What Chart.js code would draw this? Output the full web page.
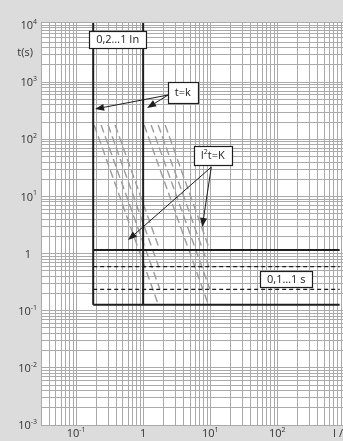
<!DOCTYPE html>
<html>
<head>
<meta charset="utf-8">
<script src="https://cdn.jsdelivr.net/npm/chart.js@4.4.1/dist/chart.umd.min.js"></script>
<style>
html, body { margin: 0; padding: 0; background: #dcdcdc; overflow: hidden; }
#wrap { width: 343px; height: 441px; overflow: hidden; }
</style>
</head>
<body>
<div id="wrap"><canvas id="chart" width="352" height="441"></canvas></div>
<script>
// axis ranges (I / In and t in seconds)
const xMin = 0.03, xMax = 1300;
const yMin = 0.001, yMax = 11300;

// tick labels
const xDecades = [0.1, 1, 10, 100];
const xDecadeExp = ['-1', '', '1', '2'];
const xAxisTitle = 'I / In';
const xAxisTitleAt = 1000;

const yDecades = [0.001, 0.01, 0.1, 1, 10, 100, 1000, 10000];
const yDecadeExp = ['-3', '-2', '-1', '', '1', '2', '3', '4'];
const yAxisTitle = 't(s)';
const yAxisTitleAt = 3240;

// long delay threshold 0,2...1 In (vertical lines)
const thresholdI = [0.18, 1];
const thresholdBottom = 0.127;

// short delay levels 0,1...1 s
const delaySolidT = [1.155, 0.127];
const delayDashedT = [0.589, 0.237];
const delayFromI = 0.18;
const delayToI = 850;

// I2t=K curves (start and end points), two groups of four
const i2tFromI = [0.186, 0.236, 0.300, 0.382, 1.035, 1.316, 1.675, 2.13];
const i2tFromT = [178, 178, 178, 178, 178, 178, 178, 178];
const i2tToI = [1.69, 1.77, 1.71, 1.77, 9.43, 9.86, 9.56, 9.86];
const i2tToT = [0.126, 0.240, 0.582, 1.155, 0.126, 0.240, 0.582, 1.155];

// annotation boxes: text, I, t
const boxText = ['0,2…1 In', 't=k', 'I²t=K', '0,1…1 s'];
const boxI = [0.417, 3.89, 10.9, 136];
const boxT = [5580, 659, 52, 0.359];
const boxH = [17, 21, 19, 16];

// arrows: from (I,t) to tip (I,t)
const arrowFromI = [2.36, 2.36, 10.38, 10.38];
const arrowFromT = [596, 596, 32.7, 32.7];
const arrowToI = [0.192, 1.147, 0.597, 7.6];
const arrowToT = [339, 353, 1.73, 2.92];

const gridColor = '#aaaaaa';
const darkColor = '#1e1e1e';
const baseFont = '11px "Open Sans"';
const supFont = '7px "Open Sans"';

const datasets = [];

thresholdI.forEach(i => {
  datasets.push({
    data: [{ x: i, y: yMax }, { x: i, y: thresholdBottom }],
    borderColor: darkColor, borderWidth: 2
  });
});

delaySolidT.forEach(t => {
  datasets.push({
    data: [{ x: delayFromI, y: t }, { x: delayToI, y: t }],
    borderColor: darkColor, borderWidth: 2
  });
});

delayDashedT.forEach(t => {
  datasets.push({
    data: [{ x: delayFromI, y: t }, { x: delayToI, y: t }],
    borderColor: darkColor, borderWidth: 1.2, borderDash: [4, 3]
  });
});

for (let k = 0; k < i2tFromI.length; k++) {
  datasets.push({
    data: [{ x: i2tFromI[k], y: i2tFromT[k] }, { x: i2tToI[k], y: i2tToT[k] }],
    borderColor: '#9c9c9c', borderWidth: 1.4, borderDash: [8, 4]
  });
}

function logGrid(scale) {
  const ticks = [];
  for (let e = -4; e <= 4; e++) {
    for (let m = 1; m <= 9; m++) {
      const v = m * Math.pow(10, e);
      if (v >= scale.min * 0.999 && v <= scale.max) ticks.push({ value: v });
    }
  }
  scale.ticks = ticks;
}

function drawParts(ctx, parts, x, y, align) {
  let w = 0;
  parts.forEach(p => {
    ctx.font = p[1] ? supFont : baseFont;
    w += ctx.measureText(p[0]).width;
  });
  let cx = align === 'right' ? x - w : align === 'center' ? x - w / 2 : x;
  parts.forEach(p => {
    ctx.font = p[1] ? supFont : baseFont;
    ctx.fillText(p[0], cx, p[1] ? y - 4 : y);
    cx += ctx.measureText(p[0]).width;
  });
  return w;
}

function powerParts(exp) {
  if (exp === '') return [['1', false]];
  return [['10', false], [exp, true]];
}

function textParts(str) {
  if (str.indexOf('²') >= 0) {
    const bits = str.split('²');
    return [[bits[0], false], ['2', true], [bits[1], false]];
  }
  return [[str, false]];
}

function arrow(ctx, x1, y1, x2, y2) {
  const ang = Math.atan2(y2 - y1, x2 - x1);
  const len = 9, half = 3.5;
  const bx = x2 - Math.cos(ang) * len, by = y2 - Math.sin(ang) * len;
  ctx.beginPath();
  ctx.moveTo(x1, y1);
  ctx.lineTo(bx, by);
  ctx.stroke();
  ctx.beginPath();
  ctx.moveTo(x2, y2);
  ctx.lineTo(bx - Math.sin(ang) * half, by + Math.cos(ang) * half);
  ctx.lineTo(bx + Math.sin(ang) * half, by - Math.cos(ang) * half);
  ctx.closePath();
  ctx.fill();
}

const plotBackground = {
  id: 'plotBackground',
  beforeDraw(chart) {
    const a = chart.chartArea, ctx = chart.ctx;
    ctx.save();
    ctx.fillStyle = '#ffffff';
    ctx.fillRect(a.left, a.top, a.right - a.left, a.bottom - a.top);
    ctx.restore();
  }
};

const annotations = {
  id: 'annotations',
  afterDraw(chart) {
    const ctx = chart.ctx, xs = chart.scales.x, ys = chart.scales.y;
    const a = chart.chartArea;
    ctx.save();
    ctx.textBaseline = 'middle';
    ctx.fillStyle = '#333333';

    // top border of the grid
    ctx.strokeStyle = gridColor;
    ctx.lineWidth = 1;
    ctx.beginPath();
    ctx.moveTo(a.left, a.top + 0.5);
    ctx.lineTo(a.right, a.top + 0.5);
    ctx.stroke();

    xDecades.forEach((v, k) => {
      drawParts(ctx, powerParts(xDecadeExp[k]), xs.getPixelForValue(v), a.bottom + 9, 'center');
    });
    drawParts(ctx, [[xAxisTitle, false]], xs.getPixelForValue(xAxisTitleAt), a.bottom + 9, 'center');

    yDecades.forEach((v, k) => {
      const right = yDecadeExp[k] === '' ? a.left - 10 : a.left - 4;
      drawParts(ctx, powerParts(yDecadeExp[k]), right, ys.getPixelForValue(v) + 1, 'right');
    });
    drawParts(ctx, [[yAxisTitle, false]], a.left - 8, ys.getPixelForValue(yAxisTitleAt), 'right');

    // arrows
    ctx.strokeStyle = darkColor;
    ctx.fillStyle = darkColor;
    ctx.lineWidth = 1;
    for (let k = 0; k < arrowFromI.length; k++) {
      arrow(ctx, xs.getPixelForValue(arrowFromI[k]), ys.getPixelForValue(arrowFromT[k]),
        xs.getPixelForValue(arrowToI[k]), ys.getPixelForValue(arrowToT[k]));
    }

    // boxes
    boxText.forEach((txt, k) => {
      const parts = textParts(txt);
      let w = 0;
      parts.forEach(p => { ctx.font = p[1] ? supFont : baseFont; w += ctx.measureText(p[0]).width; });
      const cx = xs.getPixelForValue(boxI[k]), cy = ys.getPixelForValue(boxT[k]);
      const bw = Math.round(w + 14), bh = boxH[k];
      const left = Math.round(cx - bw / 2) + 0.5, top = Math.round(cy - bh / 2) + 0.5;
      ctx.fillStyle = '#ffffff';
      ctx.fillRect(left, top, bw, bh);
      ctx.strokeStyle = darkColor;
      ctx.lineWidth = 1.2;
      ctx.strokeRect(left, top, bw, bh);
      ctx.fillStyle = '#222222';
      drawParts(ctx, parts, cx, cy + 0.5, 'center');
    });
    ctx.restore();
  }
};

new Chart(document.getElementById('chart'), {
  type: 'line',
  data: { datasets: datasets },
  options: {
    responsive: false,
    animation: false,
    events: [],
    layout: { padding: { top: 22, left: 0, right: 0, bottom: 0 } },
    elements: { point: { radius: 0 }, line: { tension: 0, fill: false } },
    plugins: { legend: { display: false }, tooltip: { enabled: false } },
    scales: {
      x: {
        type: 'logarithmic', min: xMin, max: xMax,
        ticks: { display: false },
        grid: { color: gridColor, drawTicks: false },
        border: { color: gridColor },
        afterBuildTicks: logGrid,
        afterFit: s => { s.height = 16; s.paddingLeft = 0; s.paddingRight = 0; }
      },
      y: {
        type: 'logarithmic', min: yMin, max: yMax,
        ticks: { display: false },
        grid: { color: gridColor, drawTicks: false },
        border: { color: gridColor },
        afterBuildTicks: logGrid,
        afterFit: s => { s.width = 41; s.paddingTop = 0; s.paddingBottom = 0; }
      }
    }
  },
  plugins: [plotBackground, annotations]
});
</script>
</body>
</html>
